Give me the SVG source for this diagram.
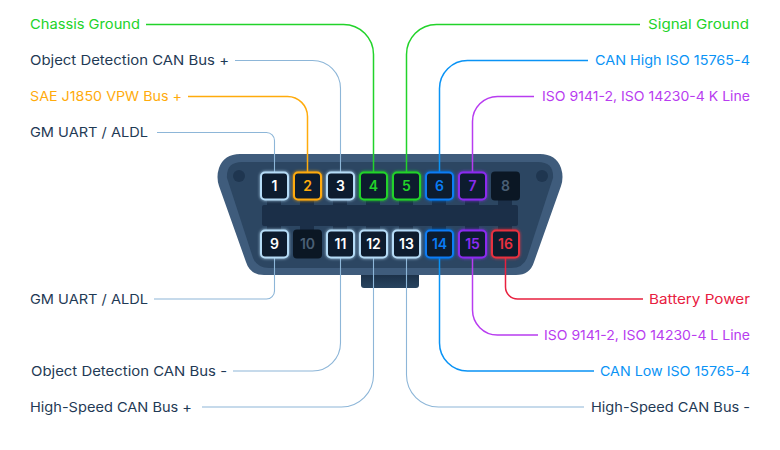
<svg xmlns="http://www.w3.org/2000/svg" width="780" height="450" viewBox="0 0 780 450">
<style>
text{font-family:"Inter","Liberation Sans",sans-serif}
.l{font-size:13.5px;font-weight:400}
.pn{font-size:14px;font-weight:600;text-anchor:middle}
.c{fill:none;stroke-width:1.5}
.p{fill:#0e1c2e;stroke-width:2;filter:url(#glow)}
.w{stroke:#b5dcf7}.wt{fill:#fff}
.off{fill:#0b1724}
.navy{fill:#1f3a55}.c.lb{stroke:#8db6d8;stroke-width:1.1}
.gr{stroke:#22d32a}.grt{fill:#22d32a}
.or{stroke:#ffab0c}.ort{fill:#ffab0c}
.bl{stroke:#0a93f5}.blt{fill:#0a93f5}
.bp{stroke:#0a7cf5}.bpt{fill:#0a7cf5}
.pu{stroke:#b83cf0}.put{fill:#b83cf0}
.pp{stroke:#8b2cf0}.ppt{fill:#8b2cf0}
.re{stroke:#e8203f}.ret{fill:#e8203f}
.rp{stroke:#e8303f}.rpt{fill:#e8303f}
.g8{fill:#4a5f74}
</style>
<defs>
<filter id="glow" x="-30%" y="-30%" width="160%" height="160%"><feGaussianBlur in="SourceGraphic" stdDeviation="1.6" result="b"/><feMerge><feMergeNode in="b"/><feMergeNode in="SourceGraphic"/></feMerge></filter>
<linearGradient id="tab" x1="0" y1="0" x2="0" y2="1"><stop offset="0" stop-color="#16283e"/><stop offset="1" stop-color="#28445f"/></linearGradient>
</defs>
<rect width="780" height="450" fill="#fff"/>
<g id="connector-body">
<rect x="361" y="268" width="58" height="20" rx="3" fill="url(#tab)"/>
<path d="M240 154H540Q556 154 561 168Q564 177 561 186L534 262Q530 275 516 275H264Q250 275 246 262L219 186Q216 177 219 168Q224 154 240 154Z" fill="#3f5c7c"/>
<path d="M242 162H538Q554 162 553 178L527 258Q523 268 511 268H269Q257 268 253 258L227 178Q226 162 242 162Z" fill="#2c4662"/>
<circle cx="239" cy="176" r="6" fill="#1f3650"/><circle cx="542" cy="176" r="6" fill="#1f3650"/>
<rect x="262" y="205" width="256" height="21" rx="2" fill="#1b2f48"/>
<path d="M267 199h14v6h-14zM300 199h14v6h-14zM333 199h14v6h-14zM366 199h14v6h-14zM399 199h14v6h-14zM432 199h14v6h-14zM465 199h14v6h-14zM498 199h14v6h-14zM267 226h14v6h-14zM300 226h14v6h-14zM333 226h14v6h-14zM366 226h14v6h-14zM399 226h14v6h-14zM432 226h14v6h-14zM465 226h14v6h-14zM498 226h14v6h-14z" fill="#1b2f48"/>
</g>
<g id="connectors">
<path class="c gr" d="M146 24.500H343.500A30 30 0 0 1 373.500 54.500V172"/>
<path class="c lb" d="M235 60.500H312.500A28 28 0 0 1 340.500 88.500V172"/>
<path class="c or" d="M188 96.500H287.500A20 20 0 0 1 307.500 116.500V172"/>
<path class="c lb" d="M157 132.500H266.500A8 8 0 0 1 274.500 140.500V172"/>
<path class="c gr" d="M640 24.500H436.500A30 30 0 0 0 406.500 54.500V172"/>
<path class="c bl" d="M588 60.500H467.500A28 28 0 0 0 439.500 88.500V172"/>
<path class="c pu" d="M534 96.500H497.500A25 25 0 0 0 472.500 121.500V172"/>
<path class="c lb" d="M154 299H266.500A8 8 0 0 0 274.500 291V258"/>
<path class="c lb" d="M233 371H312.500A28 28 0 0 0 340.500 343V258"/>
<path class="c lb" d="M202 407H341.500A32 32 0 0 0 373.500 375V258"/>
<path class="c lb" d="M584 407H438.500A32 32 0 0 1 406.500 375V258"/>
<path class="c bl" d="M594 371H467.500A28 28 0 0 1 439.500 343V258"/>
<path class="c pu" d="M538 335H497.500A25 25 0 0 1 472.500 310V258"/>
<path class="c re" d="M643 299H517.500A12 12 0 0 1 505.500 287V258"/>
</g>
<g id="pin-1"><rect class="p w" x="261" y="172.500" width="27" height="27" rx="4"/><text class="pn wt" x="274.500" y="191">1</text></g>
<g id="pin-2"><rect class="p or" x="294" y="172.500" width="27" height="27" rx="4"/><text class="pn ort" x="307.500" y="191">2</text></g>
<g id="pin-3"><rect class="p w" x="327" y="172.500" width="27" height="27" rx="4"/><text class="pn wt" x="340.500" y="191">3</text></g>
<g id="pin-4"><rect class="p gr" x="360" y="172.500" width="27" height="27" rx="4"/><text class="pn grt" x="373.500" y="191">4</text></g>
<g id="pin-5"><rect class="p gr" x="393" y="172.500" width="27" height="27" rx="4"/><text class="pn grt" x="406.500" y="191">5</text></g>
<g id="pin-6"><rect class="p bp" x="426" y="172.500" width="27" height="27" rx="4"/><text class="pn bpt" x="439.500" y="191">6</text></g>
<g id="pin-7"><rect class="p pp" x="459" y="172.500" width="27" height="27" rx="4"/><text class="pn ppt" x="472.500" y="191">7</text></g>
<g id="pin-8"><rect class="off" x="491" y="171.500" width="29" height="29" rx="4"/><text class="pn g8" x="505.500" y="191">8</text></g>
<g id="pin-9"><rect class="p w" x="261" y="230.500" width="27" height="27" rx="4"/><text class="pn wt" x="274.500" y="249">9</text></g>
<g id="pin-10"><rect class="off" x="293" y="229.500" width="29" height="29" rx="4"/><text class="pn g8" x="307.500" y="249">10</text></g>
<g id="pin-11"><rect class="p w" x="327" y="230.500" width="27" height="27" rx="4"/><text class="pn wt" x="340.500" y="249">11</text></g>
<g id="pin-12"><rect class="p w" x="360" y="230.500" width="27" height="27" rx="4"/><text class="pn wt" x="373.500" y="249">12</text></g>
<g id="pin-13"><rect class="p w" x="393" y="230.500" width="27" height="27" rx="4"/><text class="pn wt" x="406.500" y="249">13</text></g>
<g id="pin-14"><rect class="p bp" x="426" y="230.500" width="27" height="27" rx="4"/><text class="pn bpt" x="439.500" y="249">14</text></g>
<g id="pin-15"><rect class="p pp" x="459" y="230.500" width="27" height="27" rx="4"/><text class="pn ppt" x="472.500" y="249">15</text></g>
<g id="pin-16"><rect class="p rp" x="492" y="230.500" width="27" height="27" rx="4"/><text class="pn rpt" x="505.500" y="249">16</text></g>
<g id="labels">
<text class="l grt" x="30" y="28.500" textLength="110" lengthAdjust="spacingAndGlyphs">Chassis Ground</text>
<text class="l navy" x="30" y="64.500" textLength="199" lengthAdjust="spacingAndGlyphs">Object Detection CAN Bus +</text>
<text class="l ort" x="30" y="100.500" textLength="152" lengthAdjust="spacingAndGlyphs">SAE J1850 VPW Bus +</text>
<text class="l navy" x="30" y="136.500" textLength="118" lengthAdjust="spacingAndGlyphs">GM UART / ALDL</text>
<text class="l navy" x="30" y="303.500" textLength="118" lengthAdjust="spacingAndGlyphs">GM UART / ALDL</text>
<text class="l navy" x="31" y="375.500" textLength="196" lengthAdjust="spacingAndGlyphs">Object Detection CAN Bus -</text>
<text class="l navy" x="30" y="411.500" textLength="162" lengthAdjust="spacingAndGlyphs">High-Speed CAN Bus +</text>
<text class="l grt" x="648" y="28.500" textLength="101" lengthAdjust="spacingAndGlyphs">Signal Ground</text>
<text class="l blt" x="595" y="64.500" textLength="155" lengthAdjust="spacingAndGlyphs">CAN High ISO 15765-4</text>
<text class="l put" x="542" y="100.500" textLength="208" lengthAdjust="spacingAndGlyphs">ISO 9141-2, ISO 14230-4 K Line</text>
<text class="l ret" x="649" y="303.500" textLength="101" lengthAdjust="spacingAndGlyphs">Battery Power</text>
<text class="l put" x="544" y="339.500" textLength="206" lengthAdjust="spacingAndGlyphs">ISO 9141-2, ISO 14230-4 L Line</text>
<text class="l blt" x="600" y="375.500" textLength="150" lengthAdjust="spacingAndGlyphs">CAN Low ISO 15765-4</text>
<text class="l navy" x="591" y="411.500" textLength="159" lengthAdjust="spacingAndGlyphs">High-Speed CAN Bus -</text>
</g>
</svg>
